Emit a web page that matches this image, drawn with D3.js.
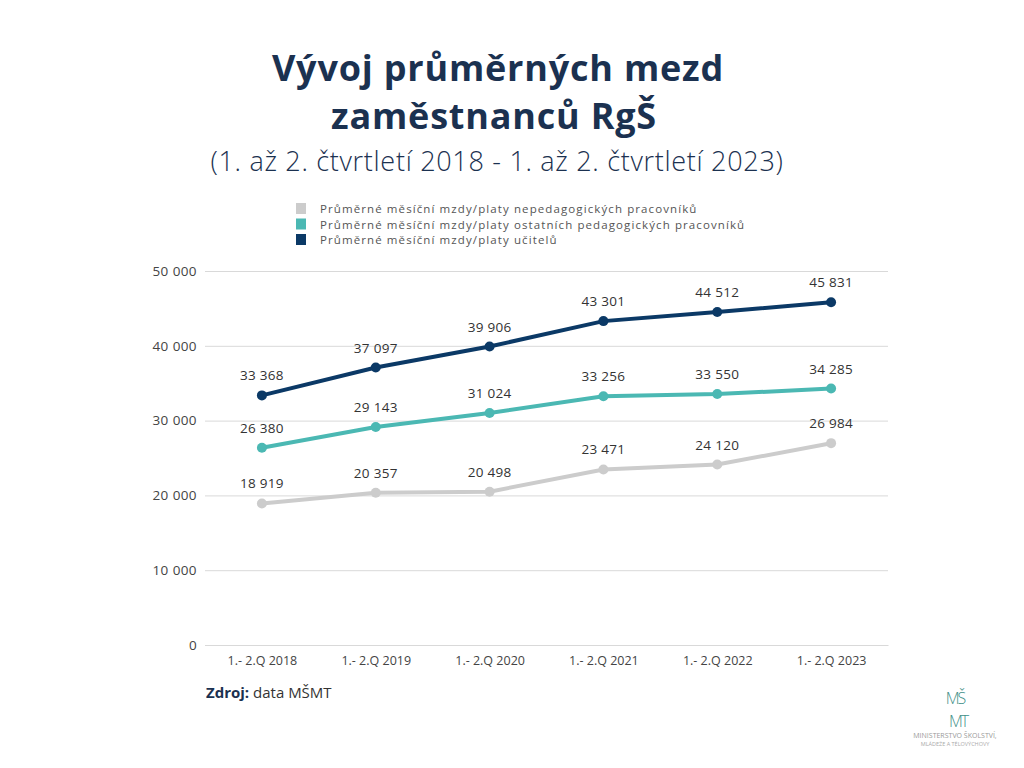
<!DOCTYPE html>
<html>
<head>
<meta charset="utf-8">
<script src="https://cdn.jsdelivr.net/npm/d3@7"></script>
<style>
  body { margin: 0; background: #fff; }
  text { font-family: "Open Sans", "Noto Sans", sans-serif; }
</style>
</head>
<body>
<div id="chart"></div>
<script>
// Data
var categories = ["1.- 2.Q 2018", "1.- 2.Q 2019", "1.- 2.Q 2020", "1.- 2.Q 2021", "1.- 2.Q 2022", "1.- 2.Q 2023"];
var seriesNames = [
    "Průměrné měsíční mzdy/platy nepedagogických pracovníků",
    "Průměrné měsíční mzdy/platy ostatních pedagogických pracovníků",
    "Průměrné měsíční mzdy/platy učitelů"
];
var nepedagogicti = [18919, 20357, 20498, 23471, 24120, 26984];
var ostatniPedagogicti = [26380, 29143, 31024, 33256, 33550, 34285];
var ucitele = [33368, 37097, 39906, 43301, 44512, 45831];
var yTicks = [0, 10000, 20000, 30000, 40000, 50000];
var colors = ["#cccccc", "#4bb8b3", "#0b3966"];

var svgWidth = 1024;
var svgHeight = 768;
var margin = { top: 271, right: 136, bottom: 123, left: 205 };
var width = svgWidth - margin.left - margin.right;
var height = svgHeight - margin.top - margin.bottom;

var svg = d3.select("#chart")
    .append("svg")
    .attr("width", svgWidth)
    .attr("height", svgHeight);

// Titulek
var navy = "#1b3150";
svg.append("text")
    .attr("x", 498).attr("y", 81)
    .attr("text-anchor", "middle")
    .attr("font-size", 36).attr("font-weight", 700)
    .attr("letter-spacing", 0.8)
    .attr("fill", navy)
    .text("Vývoj průměrných mezd");
svg.append("text")
    .attr("x", 494).attr("y", 129)
    .attr("text-anchor", "middle")
    .attr("font-size", 36).attr("font-weight", 700)
    .attr("letter-spacing", 0.8)
    .attr("fill", navy)
    .text("zaměstnanců RgŠ");
svg.append("text")
    .attr("x", 497).attr("y", 171)
    .attr("text-anchor", "middle")
    .attr("font-size", 27).attr("font-weight", 300)
    .attr("letter-spacing", 0.7)
    .attr("fill", navy)
    .text("(1. až 2. čtvrtletí 2018 - 1. až 2. čtvrtletí 2023)");

// Legenda
var legend = svg.append("g").attr("transform", "translate(296,203)");
seriesNames.forEach(function (name, i) {
    legend.append("rect")
        .attr("x", 0).attr("y", i * 15.5)
        .attr("width", 10).attr("height", 11)
        .attr("fill", colors[i]);
    legend.append("text")
        .attr("x", 24).attr("y", i * 15.5 + 10)
        .attr("font-size", 11.5)
        .attr("letter-spacing", 1.1)
        .attr("fill", "#555")
        .text(name);
});

var g = svg.append("g")
    .attr("transform", "translate(" + margin.left + "," + margin.top + ")");

var x = d3.scalePoint().domain(categories).range([0, width]).padding(0.5);
var y = d3.scaleLinear().domain([0, 50000]).range([height, 0]);
var fmt = function (v) { return d3.format(",")(v).replace(/,/g, " "); };

// Mřížka
g.append("g")
    .call(d3.axisLeft(y).tickValues(yTicks).tickSize(-width).tickFormat(fmt).tickPadding(8))
    .call(function (s) {
        s.select(".domain").remove();
        s.selectAll(".tick line").attr("stroke", "#d9d9d9");
        s.selectAll(".tick text").attr("font-size", 13.5).attr("fill", "#444")
            .attr("letter-spacing", 0.4)
            .style("font-family", "'Open Sans', sans-serif");
    });

g.append("g")
    .attr("transform", "translate(0," + height + ")")
    .call(d3.axisBottom(x).tickSize(0).tickPadding(11))
    .call(function (s) {
        s.select(".domain").attr("stroke", "#d9d9d9");
        s.selectAll(".tick text").attr("font-size", 12.5).attr("fill", "#444")
            .style("font-family", "'Open Sans', sans-serif");
    });

// Čáry
var line = d3.line()
    .x(function (d, i) { return x(categories[i]); })
    .y(function (d) { return y(d); });

[nepedagogicti, ostatniPedagogicti, ucitele].forEach(function (values, k) {
    g.append("path")
        .datum(values)
        .attr("fill", "none")
        .attr("stroke", colors[k])
        .attr("stroke-width", 4)
        .attr("d", line);
    g.selectAll(".dot" + k)
        .data(values)
        .enter().append("circle")
        .attr("cx", function (d, i) { return x(categories[i]); })
        .attr("cy", function (d) { return y(d); })
        .attr("r", 5)
        .attr("fill", colors[k]);
    g.selectAll(".lab" + k)
        .data(values)
        .enter().append("text")
        .attr("x", function (d, i) { return x(categories[i]); })
        .attr("y", function (d) { return y(d) - 15; })
        .attr("text-anchor", "middle")
        .attr("font-size", 13.5)
        .attr("letter-spacing", 0.3)
        .attr("fill", "#333")
        .text(fmt);
});

// Zdroj
var src = svg.append("text").attr("x", 206).attr("y", 698).attr("font-size", 15).attr("fill", navy);
src.append("tspan").attr("font-weight", 700).text("Zdroj:");
src.append("tspan").attr("fill", "#333").text(" data MŠMT");

// Logo
var logo = svg.append("g").attr("transform", "translate(955,0)");
logo.append("text").attr("x", 0).attr("y", 704).attr("text-anchor", "middle")
    .attr("font-size", 16).attr("font-weight", 300).attr("fill", "#3f8f88")
    .attr("letter-spacing", -2).text("MŠ");
logo.append("text").attr("x", 3).attr("y", 727).attr("text-anchor", "middle")
    .attr("font-size", 16).attr("font-weight", 300).attr("fill", "#3f8f88")
    .attr("letter-spacing", -2).text("MT");
logo.append("text").attr("x", 0).attr("y", 738).attr("text-anchor", "middle")
    .attr("font-size", 7).attr("fill", "#999").text("MINISTERSTVO ŠKOLSTVÍ,");
logo.append("text").attr("x", 0).attr("y", 746).attr("text-anchor", "middle")
    .attr("font-size", 5.5).attr("fill", "#aaa").text("MLÁDEŽE A TĚLOVÝCHOVY");
</script>
</body>
</html>
